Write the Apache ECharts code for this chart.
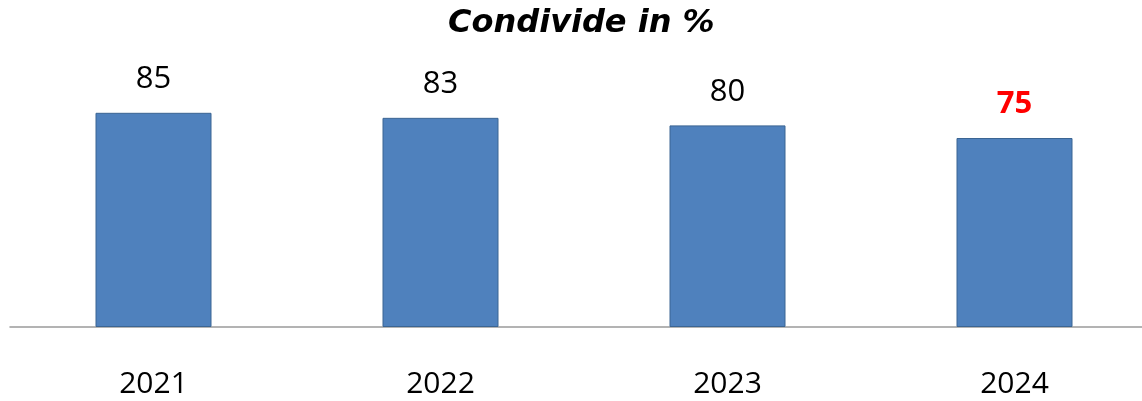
<!DOCTYPE html>
<html>
<head>
<meta charset="utf-8">
<script src="https://cdn.jsdelivr.net/npm/echarts@6/dist/echarts.min.js"></script>
<style>
  html, body { margin: 0; padding: 0; background: #fff; }
  #chart { width: 1142px; height: 401px; }
</style>
</head>
<body>
<div id="chart"></div>
<script>
const years = ['2021', '2022', '2023', '2024'];
const values = [85, 83, 80, 75];
const highlightIndex = 3;

const chart = echarts.init(document.getElementById('chart'));

const barData = values.map((v, i) => {
  if (i !== highlightIndex) return v;
  return {
    value: v,
    label: { color: '#ff0000', fontWeight: 'bold' }
  };
});

chart.setOption({
  animation: false,
  title: {
    text: 'Condivide in %',
    left: 443,
    top: 3,
    textStyle: {
      fontFamily: 'DejaVu Sans',
      fontStyle: 'italic',
      fontWeight: 'bold',
      fontSize: 32,
      color: '#000'
    }
  },
  grid: { left: 10, right: -16, top: 75, bottom: 74, outerBoundsMode: 'none' },
  xAxis: {
    type: 'category',
    data: years,
    axisLine: { lineStyle: { color: '#9a9a9a', width: 1.5 } },
    axisTick: { show: false },
    axisLabel: {
      margin: 42,
      fontFamily: 'Open Sans',
      fontSize: 30,
      color: '#000'
    }
  },
  yAxis: {
    type: 'value',
    min: 0,
    max: 100,
    show: false
  },
  series: [{
    type: 'bar',
    data: barData,
    barWidth: 116,
    itemStyle: { color: '#4f81bd', borderColor: '#3b6593', borderWidth: 1 },
    label: {
      show: true,
      position: 'top',
      distance: 18,
      fontFamily: 'Open Sans',
      fontSize: 31,
      color: '#000'
    }
  }]
});
</script>
</body>
</html>
